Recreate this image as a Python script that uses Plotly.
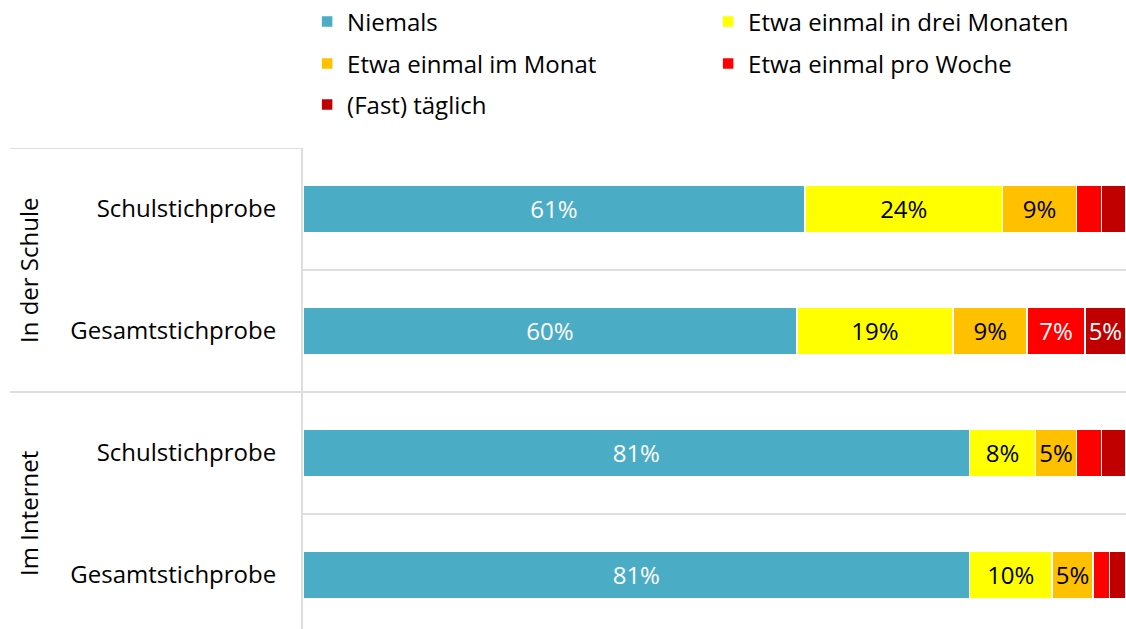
import plotly.graph_objects as go

groups = ["In der Schule", "In der Schule", "Im Internet", "Im Internet"]
samples = ["Schulstichprobe", "Gesamtstichprobe", "Schulstichprobe", "Gesamtstichprobe"]
series_names = ["Niemals", "Etwa einmal in drei Monaten", "Etwa einmal im Monat",
                "Etwa einmal pro Woche", "(Fast) täglich"]
niemals = [61, 60, 81, 81]
drei_monate = [24, 19, 8, 10]
monat = [9, 9, 5, 5]
woche = [3, 7, 3, 2]
taeglich = [3, 5, 3, 2]
values = [niemals, drei_monate, monat, woche, taeglich]
colors = ["#4BACC6", "#FFFF00", "#FFC000", "#FF0000", "#C00000"]
text_colors = ["white", "black", "black", "white", "white"]
legend_ids = ["legend", "legend", "legend2", "legend2", "legend3"]

FONT = "Open Sans"
FS = 24
ids = [g + "|" + s for g, s in zip(groups, samples)]

fig = go.Figure()
for name, vals, col, tcol, lg in zip(series_names, values, colors, text_colors, legend_ids):
    fig.add_trace(go.Bar(
        y=ids, x=vals, name=name, orientation="h", legend=lg,
        marker=dict(color=col, line=dict(color="white", width=1.5)),
        text=[f"{v}%" if v >= 5 else "" for v in vals],
        textposition="inside", insidetextanchor="middle",
        textfont=dict(color=tcol, size=FS, family=FONT),
        width=0.385, hoverinfo="skip",
    ))

PT, PH = 148, 481
def py(ypix):
    return 1 + (PT - ypix) / PH

leg_common = dict(orientation="h", x=0.005, xanchor="left", yanchor="middle",
                  entrywidth=356, traceorder="normal", font=dict(size=FS, family=FONT),
                  bgcolor="rgba(0,0,0,0)")

fig.update_layout(
    width=1126, height=629, barmode="stack",
    margin=dict(l=303, r=0, t=148, b=0, autoexpand=False),
    paper_bgcolor="white", plot_bgcolor="white",
    font=dict(family=FONT, size=FS, color="black"),
    showlegend=True,
    legend=dict(y=py(22), **leg_common),
    legend2=dict(y=py(64), **leg_common),
    legend3=dict(y=py(105), **leg_common),
    xaxis=dict(range=[0, 100], showgrid=False, showticklabels=False, zeroline=False,
               showline=False, fixedrange=True, automargin=False),
    yaxis=dict(type="category", categoryorder="array", categoryarray=ids,
               range=[3.443, -0.5], tickvals=ids, ticktext=samples,
               tickson="boundaries", showgrid=True, gridcolor="#dedede", gridwidth=2,
               showline=True, linecolor="#dedede", linewidth=2, automargin=False,
               ticks="", ticklabelstandoff=20, tickfont=dict(size=FS, family=FONT)),
)

# group separator lines extending to the left
xl = -(303 - 10) / 823
for yv in [-0.5, 1.5]:
    fig.add_shape(type="line", xref="paper", yref="y", x0=xl, x1=0, y0=yv, y1=yv,
                  line=dict(color="#dedede", width=2), layer="below")

# group labels
for gname, ypos in [("In der Schule", 0.5), ("Im Internet", 2.5)]:
    fig.add_annotation(text=gname, xref="paper", yref="y", x=(29 - 303) / 823, y=ypos,
                       textangle=-90, showarrow=False, xanchor="center", yanchor="middle",
                       font=dict(size=FS, family=FONT))

fig.write_html("out.html", config={"displayModeBar": False},
               post_script="document.body.style.margin='0px';")
